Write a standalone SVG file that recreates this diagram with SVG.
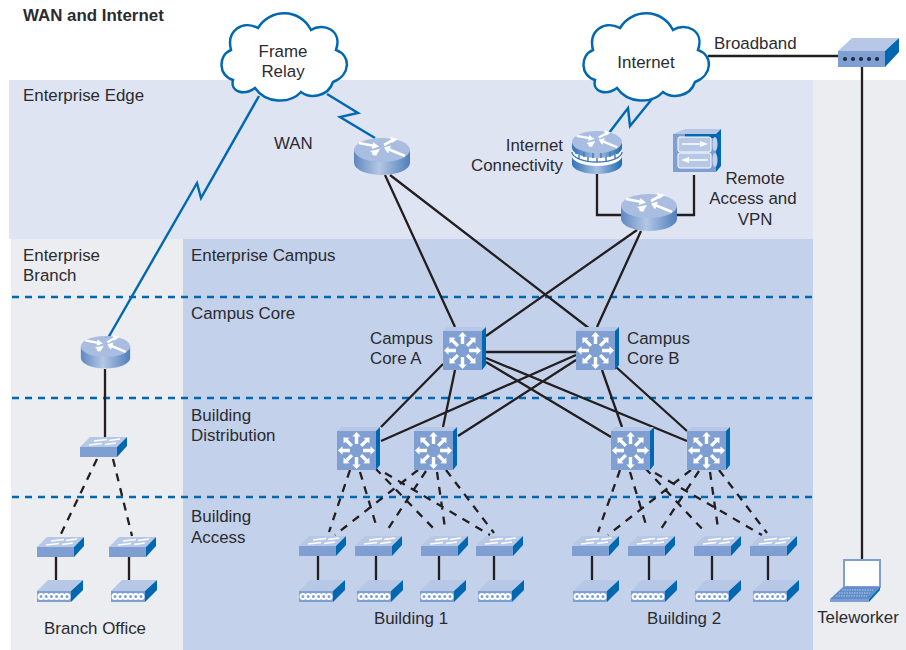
<svg xmlns="http://www.w3.org/2000/svg" xmlns:xlink="http://www.w3.org/1999/xlink" width="906" height="650" viewBox="0 0 906 650">
<style>
text{font-family:"Liberation Sans",Arial,sans-serif;font-size:16.9px;fill:#2b2b2f}
.b{font-weight:bold}
.m{text-anchor:middle}
.e{text-anchor:end}
.zone{stroke:#0067b1;stroke-width:2.300;stroke-dasharray:7 6;fill:none}
.solid{stroke:#231f20;stroke-width:2.300;fill:none}
.dash{stroke:#231f20;stroke-width:2.300;fill:none;stroke-dasharray:8 7}
.bolt{stroke:#0067b1;stroke-width:2.400;fill:none;stroke-linejoin:miter}
.cloud{fill:#fff;stroke:#0067b1;stroke-width:2.500}
.top{fill:#b7c8e6}
.front{fill:#7f9fd2}
.side{fill:#0067b1}
.wa{fill:#fff}
.wl{stroke:#fff;stroke-width:2.600;fill:none}
.ring{fill:#7f9fd2;stroke:#fff;stroke-width:2}
</style>
<defs>
<linearGradient id="rb" x1="0" x2="1" y1="0" y2="0"><stop offset="0" stop-color="#5f88bf"/><stop offset=".45" stop-color="#b4c7e6"/><stop offset="1" stop-color="#4f7fba"/></linearGradient>
<linearGradient id="fb" x1="0" x2="1" y1="0" y2="0"><stop offset="0" stop-color="#2f73b6"/><stop offset=".5" stop-color="#a9c1e2"/><stop offset="1" stop-color="#1f6ab0"/></linearGradient>
<g id="rarrows">
<path class="wl" d="M-23 -7L-7 -4"/><path class="wa" d="M-9 -8L-3 -3.500L-10 -1Z"/>
<path class="wl" d="M23 6L6 -1"/><path class="wa" d="M9 -4.500L2 -2.500L6 3.500Z"/>
<path class="wl" d="M11 -10L2 -5"/><path class="wa" d="M8 -13L16 -11L10 -7Z"/>
<path class="wl" d="M-6 1L-9 5"/><path class="wa" d="M-2 -1L-6 6L-12 1Z"/>
</g>
<g id="router">
<path d="M-28 12V25A28 12 0 0 0 28 25V12Z" fill="url(#rb)"/>
<ellipse cx="0" cy="12" rx="28" ry="12" fill="#a9bde0"/>
<use xlink:href="#rarrows" href="#rarrows" y="12"/>
</g>
<g id="frouter">
<path d="M-25 12V33A25 10 0 0 0 25 33V12Z" fill="url(#fb)"/>
<path d="M-25 17A25 10 0 0 0 25 17V25A25 10 0 0 1 -25 25Z" fill="#fff"/>
<path d="M-25 21A25 10 0 0 0 25 21M-18 24V28M-9 26V30M0 27V31M9 26V30M18 24V28M-21 18V23M-13 21V26M-4 22V27M4 22V27M13 21V26M21 18V23" stroke="#3f78ba" stroke-width="1.400" fill="none"/>
<ellipse cx="0" cy="11" rx="25" ry="11" fill="#a9bde0"/>
<use xlink:href="#rarrows" href="#rarrows" transform="translate(0 11) scale(.88)"/>
</g>
<g id="sarrow"><path class="wa" d="M-1.700 -6.500V-14H-4.200L0 -18.500L4.200 -14H1.700V-6.500Z"/></g>
<g id="mls">
<rect x="0" y="4" width="39" height="39" class="front"/>
<path d="M0 4L4 0H43L39 4Z" class="top"/>
<path d="M39 4L43 0V38L39 43Z" class="side"/>
<g transform="translate(19.500 23.500)">
<use xlink:href="#sarrow" href="#sarrow"/>
<use xlink:href="#sarrow" href="#sarrow" transform="rotate(45)"/>
<use xlink:href="#sarrow" href="#sarrow" transform="rotate(90)"/>
<use xlink:href="#sarrow" href="#sarrow" transform="rotate(135)"/>
<use xlink:href="#sarrow" href="#sarrow" transform="rotate(180)"/>
<use xlink:href="#sarrow" href="#sarrow" transform="rotate(225)"/>
<use xlink:href="#sarrow" href="#sarrow" transform="rotate(270)"/>
<use xlink:href="#sarrow" href="#sarrow" transform="rotate(315)"/>
</g>
</g>
<g id="switch">
<rect x="0" y="10" width="37" height="10" class="front"/>
<path d="M0 10L10 0H47L37 10Z" class="top"/>
<path d="M37 10L47 0V9L37 20Z" class="side"/>
<path d="M9 8L22 6.500M14 4L27 2.500M25 7.500L36 6M29 3.500L40 2" stroke="#fff" stroke-width="1.500" fill="none"/>
</g>
<g id="hub">
<rect x="0" y="11" width="34" height="11" class="front"/>
<path d="M0 11L11 0H46L34 11Z" class="top"/>
<path d="M34 11L46 0V10L34 22Z" class="side"/>
<circle cx="4" cy="16.500" r="2.500" class="ring"/><circle cx="9.200" cy="16.500" r="2.500" class="ring"/><circle cx="14.400" cy="16.500" r="2.500" class="ring"/><circle cx="19.600" cy="16.500" r="2.500" class="ring"/><circle cx="24.800" cy="16.500" r="2.500" class="ring"/><circle cx="30" cy="16.500" r="2.500" class="ring"/>
</g>
<path id="cloudp" d="M620 28C632 8 662 8 673 30C685 22 705 30 698 50C713 55 713 75 695 82C690 97 672 99 663 92C652 104 628 104 617 88C606 96 592 92 595 80C580 76 580 55 593 50C588 30 605 20 620 28Z"/>
</defs>

<g id="zones">
<rect x="813" y="80" width="93" height="570" fill="#ebedf0"/>
<rect x="11" y="239" width="172" height="411" fill="#ebedf0"/>
<rect x="183" y="239" width="630" height="411" fill="#c3d1eb"/>
<rect x="9" y="80" width="804" height="159" fill="#dfe4f3"/>
<path class="zone" d="M12 297H812M12 398H812M12 497H812"/>
</g>

<g id="connectors">
<path class="solid" d="M385 175L455 327M390 175L590 329M637 230L486 336M641 231L597 327"/>
<path class="solid" d="M486 352H576M443 364L381 427M455 370L443 427M486 358L687 441M486 362L611 437M576 355L381 441M576 360L458 436M602 370L622 427M616 367L687 431"/>
<path class="solid" d="M597 174V215H621M694 175V215H677M708 56H838M862 67V560M105 369V437"/>
<path class="solid" d="M318 556V580M376 556V580M439 556V580M494 556V580M592 556V580M649 556V580M712 556V580M768 556V580M56 556V580M129 556V580"/>
<path class="dash" d="M350 470L329 532M360 472L377 528M375 468L437 532M385 473L490 535M426 471L388 529M418 470L335 535M437 472L445 528M446 470L494 533"/>
<path class="dash" d="M620 470L598 532M630 472L647 528M645 468L705 532M655 473L762 535M699 471L661 529M691 470L608 535M710 472L718 528M719 470L767 533"/>
<path class="dash" d="M97 459L60 536M113 459L132 536"/>
<path class="bolt" d="M259 96L201 198L197 183L108 338"/>
<path class="bolt" d="M327 94L358 113L340 117L375 138"/>
<path class="bolt" d="M652 99L630 126L628 108L609 133"/>
</g>

<g id="cloud-frame-relay"><use xlink:href="#cloudp" href="#cloudp" class="cloud" x="-362"/><text class="m" x="283" y="57">Frame</text><text class="m" x="283" y="77">Relay</text></g>
<g id="cloud-internet"><use xlink:href="#cloudp" href="#cloudp" class="cloud"/><text class="m" x="646" y="68">Internet</text></g>

<g id="router-wan"><use xlink:href="#router" href="#router" x="382" y="138"/></g>
<g id="router-edge"><use xlink:href="#router" href="#router" x="649" y="194"/></g>
<g id="router-branch"><use xlink:href="#router" href="#router" transform="translate(105.500 336) scale(.88)"/></g>
<g id="firewall"><use xlink:href="#frouter" href="#frouter" x="597" y="131"/></g>
<g id="vpn">
<rect x="673" y="134" width="43" height="38" fill="#7f9fd2"/>
<path d="M673 134L685 129H721L716 134Z" class="top"/>
<path d="M716 134L721 129V166L716 172Z" class="side"/>
<rect x="685" y="134" width="31" height="4" class="side"/>
<rect x="678" y="137" width="33" height="15" rx="2" fill="#b7c8e6" stroke="#fff"/>
<rect x="678" y="153" width="33" height="15" rx="2" fill="#b7c8e6" stroke="#fff"/>
<ellipse cx="715" cy="144" rx="2.500" ry="7" fill="#c3d1eb"/><ellipse cx="715" cy="160" rx="2.500" ry="7" fill="#c3d1eb"/>
<path d="M682 144H704M686 160H708" stroke="#fff" stroke-width="1.500"/>
<path d="M708 144L700 141V147ZM681 160L689 157V163Z" fill="#fff"/>
</g>

<g id="core-a"><use xlink:href="#mls" href="#mls" x="443" y="327"/></g>
<g id="core-b"><use xlink:href="#mls" href="#mls" x="576" y="327"/></g>
<g id="dist-1"><use xlink:href="#mls" href="#mls" x="337" y="427"/></g>
<g id="dist-2"><use xlink:href="#mls" href="#mls" x="414" y="427"/></g>
<g id="dist-3"><use xlink:href="#mls" href="#mls" x="611" y="427"/></g>
<g id="dist-4"><use xlink:href="#mls" href="#mls" x="687" y="427"/></g>

<g id="access-1"><use xlink:href="#switch" href="#switch" x="299" y="536"/></g>
<g id="access-2"><use xlink:href="#switch" href="#switch" x="355" y="536"/></g>
<g id="access-3"><use xlink:href="#switch" href="#switch" x="421" y="536"/></g>
<g id="access-4"><use xlink:href="#switch" href="#switch" x="476" y="536"/></g>
<g id="access-5"><use xlink:href="#switch" href="#switch" x="572" y="536"/></g>
<g id="access-6"><use xlink:href="#switch" href="#switch" x="628" y="536"/></g>
<g id="access-7"><use xlink:href="#switch" href="#switch" x="694" y="536"/></g>
<g id="access-8"><use xlink:href="#switch" href="#switch" x="750" y="536"/></g>
<g id="branch-dist"><use xlink:href="#switch" href="#switch" x="80" y="437"/></g>
<g id="branch-access-1"><use xlink:href="#switch" href="#switch" x="37" y="537"/></g>
<g id="branch-access-2"><use xlink:href="#switch" href="#switch" x="109" y="537"/></g>

<g id="hub-1"><use xlink:href="#hub" href="#hub" x="299" y="580"/></g>
<g id="hub-2"><use xlink:href="#hub" href="#hub" x="357" y="580"/></g>
<g id="hub-3"><use xlink:href="#hub" href="#hub" x="420" y="580"/></g>
<g id="hub-4"><use xlink:href="#hub" href="#hub" x="478" y="580"/></g>
<g id="hub-5"><use xlink:href="#hub" href="#hub" x="573" y="580"/></g>
<g id="hub-6"><use xlink:href="#hub" href="#hub" x="631" y="580"/></g>
<g id="hub-7"><use xlink:href="#hub" href="#hub" x="695" y="580"/></g>
<g id="hub-8"><use xlink:href="#hub" href="#hub" x="753" y="580"/></g>
<g id="hub-9"><use xlink:href="#hub" href="#hub" x="37" y="580"/></g>
<g id="hub-10"><use xlink:href="#hub" href="#hub" x="111" y="580"/></g>

<g id="broadband-device">
<rect x="838" y="51" width="47" height="16" class="front"/>
<path d="M838 51L852 38H899L885 51Z" class="top"/>
<path d="M885 51L899 38V52L885 67Z" class="side"/>
<g fill="#1d2a3a"><circle cx="845" cy="59" r="2"/><circle cx="853" cy="59" r="2"/><circle cx="861" cy="59" r="2"/><circle cx="869" cy="59" r="2"/><circle cx="877" cy="59" r="2"/></g>
</g>
<g id="teleworker">
<rect x="844" y="560" width="36" height="27" fill="#fff" stroke="#7f9fd2" stroke-width="2"/>
<path d="M843 587H880L869 599H830Z" fill="#5f8ecb"/>
<path d="M830 599H869V602H830Z" fill="#7f9fd2"/>
<path d="M869 599L880 587V590L869 602Z" class="side"/>
<path d="M842 590H873M839 593H870M836 596H867" stroke="#b7c8e6" stroke-width="1" stroke-dasharray="1.500 1"/>
</g>

<g id="labels">
<text class="b" x="23" y="21">WAN and Internet</text>
<text x="23" y="101">Enterprise Edge</text>
<text x="274" y="149">WAN</text>
<text class="e" x="563" y="151">Internet</text>
<text class="e" x="563" y="171">Connectivity</text>
<text x="714" y="49">Broadband</text>
<text class="m" x="755" y="184">Remote</text>
<text class="m" x="753" y="204">Access and</text>
<text class="m" x="755" y="225">VPN</text>
<text x="23" y="261">Enterprise</text>
<text x="23" y="281">Branch</text>
<text x="191" y="261">Enterprise Campus</text>
<text x="191" y="319">Campus Core</text>
<text x="370" y="344">Campus</text>
<text x="370" y="364">Core A</text>
<text x="627" y="344">Campus</text>
<text x="627" y="364">Core B</text>
<text x="191" y="421">Building</text>
<text x="191" y="441">Distribution</text>
<text x="191" y="522">Building</text>
<text x="191" y="543">Access</text>
<text class="m" x="95" y="634">Branch Office</text>
<text class="m" x="411" y="624">Building 1</text>
<text class="m" x="684" y="624">Building 2</text>
<text class="m" x="858" y="623">Teleworker</text>
</g>
</svg>
